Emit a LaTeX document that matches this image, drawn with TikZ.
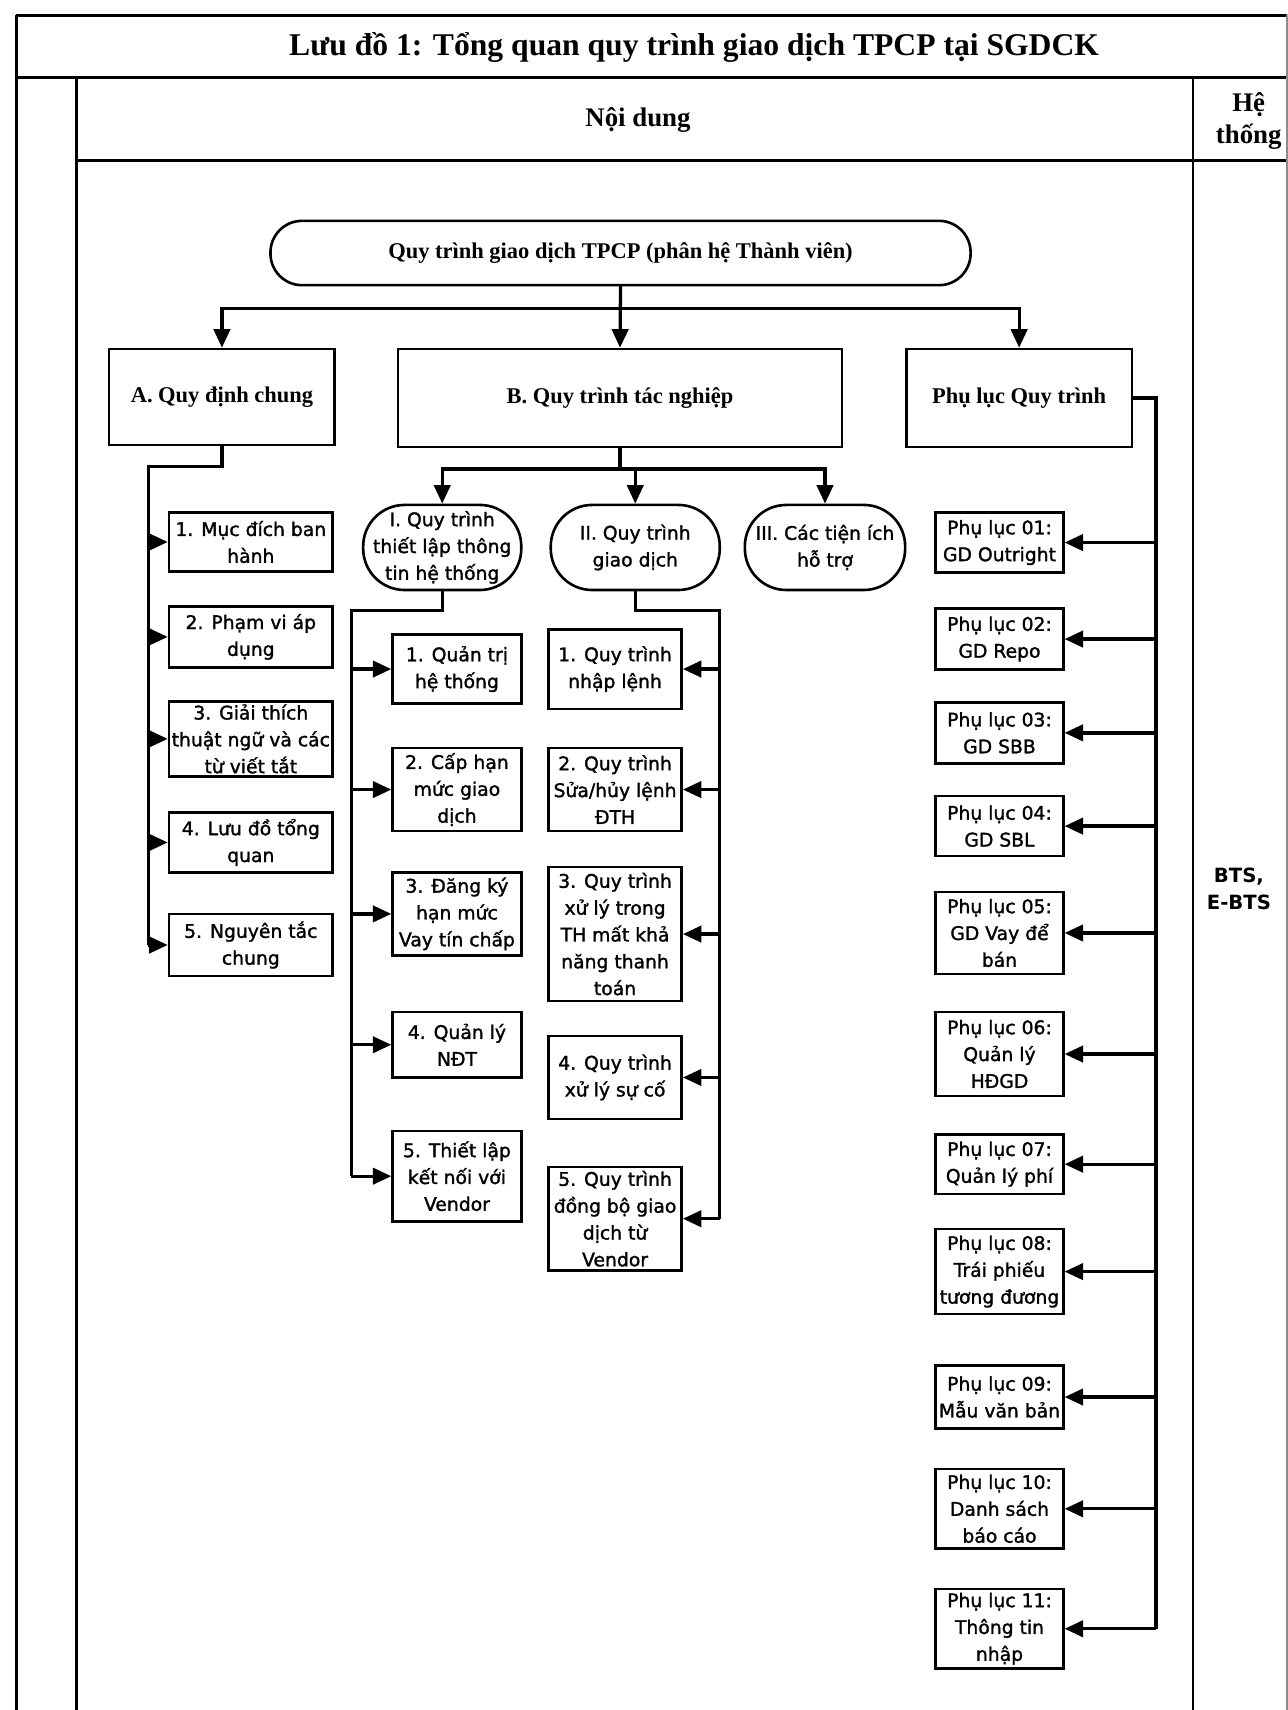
\documentclass[tikz,border=0pt]{standalone}
\usepackage{fontspec}
\setmainfont{Liberation Serif}
\newfontfamily\boxsans[FakeBold=1.5]{DejaVu Sans}
\newfontfamily\boxsansbold{DejaVu Sans Bold}
\usetikzlibrary{arrows.meta}

\begin{document}
\begin{tikzpicture}[x=0.5pt,y=-0.5pt,
  frame/.style={line width=1.2pt},
  headbox/.style={draw, line width=1.2pt, inner sep=0pt, align=center,
    font=\bfseries\fontsize{10.3}{12}\selectfont},
  capbox/.style={headbox, rounded corners=14.5pt},
  stepbox/.style={draw, line width=1.2pt, inner sep=0pt, align=center,
    font=\boxsans\fontsize{8.6}{12.3}\selectfont},
  pillbox/.style={stepbox, rounded corners=19pt},
  link/.style={line width=1.5pt},
  arrowlink/.style={link, -{Triangle[length=8.5pt,width=7.5pt]}},
  achild/.style={stepbox, minimum width=75pt},
  ichild/.style={stepbox, minimum width=59pt},
  iichild/.style={stepbox, minimum width=61pt},
  appx/.style={stepbox, minimum width=58.5pt},
]
\useasboundingbox (0,0) rectangle (1181,1568);

% table frame
\draw[frame] (15,14) -- (1180,14);
\draw[frame] (15,14) -- (15,1568);
\draw[frame] (15,71) -- (1180,71);
\draw[frame] (70,71) -- (70,1568);
\draw[frame] (70,147) -- (1180,147);
\draw[frame] (1094,71) -- (1094,1568);
\draw[line width=0.6pt, black!45] (1180,14) -- (1180,1568);

% headings
\node[font=\bfseries\fontsize{14.5}{17}\selectfont] (title) at (636.5,44)
  {Lưu đồ 1: Tổng quan quy trình giao dịch TPCP tại SGDCK};
\node[font=\bfseries\fontsize{12.3}{15}\selectfont] (content) at (585,110) {Nội dung};
\node[font=\bfseries\fontsize{12.3}{15}\selectfont, align=center] (system) at (1145,111) {Hệ\\thống};
\node[font=\boxsansbold\fontsize{9}{12}\selectfont, align=center] (bts) at (1136,815) {BTS,\\E-BTS};

% top level
\node[capbox, minimum width=321pt, minimum height=29.5pt] (top) at (569,232)
  {Quy trình giao dịch TPCP (phân hệ Thành viên)};
\node[headbox, minimum width=103.5pt, minimum height=44pt] (A) at (203.5,364) {A. Quy định chung};
\node[headbox, minimum width=203.5pt, minimum height=45pt] (B) at (568.5,365) {B. Quy trình tác nghiệp};
\node[headbox, minimum width=103.5pt, minimum height=45pt] (P) at (934.5,365) {Phụ lục Quy trình};

% A. general rules
\node[achild, minimum height=27pt]   (a1) at (230,497)   {1. Mục đích ban\\hành};
\node[achild, minimum height=28pt]   (a2) at (230,584)   {2. Phạm vi áp\\dụng};
\node[achild, minimum height=34.5pt] (a3) at (230,677.5) {3. Giải thích\\thuật ngữ và các\\từ viết tắt};
\node[achild, minimum height=27.5pt] (a4) at (230,772.5) {4. Lưu đồ tổng\\quan};
\node[achild, minimum height=28.5pt] (a5) at (230,866.5) {5. Nguyên tắc\\chung};

% B. operating procedures
\node[pillbox, minimum width=72.5pt, minimum height=39pt] (pI)   at (405.5,502) {I. Quy trình\\thiết lập thông\\tin hệ thống};
\node[pillbox, minimum width=77.5pt, minimum height=39pt] (pII)  at (582.5,502) {II. Quy trình\\giao dịch};
\node[pillbox, minimum width=73.5pt, minimum height=39pt] (pIII) at (756.5,502) {III. Các tiện ích\\hỗ trợ};

\node[ichild, minimum height=31.5pt] (i1) at (419,613.5)  {1. Quản trị\\hệ thống};
\node[ichild, minimum height=38pt]   (i2) at (419,724)    {2. Cấp hạn\\mức giao\\dịch};
\node[ichild, minimum height=38pt]   (i3) at (419,838)    {3. Đăng ký\\hạn mức\\Vay tín chấp};
\node[ichild, minimum height=30pt]   (i4) at (419,958)    {4. Quản lý\\NĐT};
\node[ichild, minimum height=41.5pt] (i5) at (419,1078.5) {5. Thiết lập\\kết nối với\\Vendor};

\node[iichild, minimum height=36.5pt] (ii1) at (564,613.5)  {1. Quy trình\\nhập lệnh};
\node[iichild, minimum height=38pt]   (ii2) at (564,724)    {2. Quy trình\\Sửa/hủy lệnh\\ĐTH};
\node[iichild, minimum height=61.5pt] (ii3) at (564,856.5)  {3. Quy trình\\xử lý trong\\TH mất khả\\năng thanh\\toán};
\node[iichild, minimum height=38pt]   (ii4) at (564,988)    {4. Quy trình\\xử lý sự cố};
\node[iichild, minimum height=47.5pt] (ii5) at (564,1117.5) {5. Quy trình\\đồng bộ giao\\dịch từ\\Vendor};

% appendices
\node[appx, minimum height=27.5pt] (x1)  at (916.5,497.5)  {Phụ lục 01:\\GD Outright};
\node[appx, minimum height=28pt]   (x2)  at (916.5,586)    {Phụ lục 02:\\GD Repo};
\node[appx, minimum height=28pt]   (x3)  at (916.5,672)    {Phụ lục 03:\\GD SBB};
\node[appx, minimum height=27.5pt] (x4)  at (916.5,757.5)  {Phụ lục 04:\\GD SBL};
\node[appx, minimum height=37.5pt] (x5)  at (916.5,855.5)  {Phụ lục 05:\\GD Vay để\\bán};
\node[appx, minimum height=38.5pt] (x6)  at (916.5,966.5)  {Phụ lục 06:\\Quản lý\\HĐGD};
\node[appx, minimum height=27.5pt] (x7)  at (916.5,1067.5) {Phụ lục 07:\\Quản lý phí};
\node[appx, minimum height=39pt]   (x8)  at (916.5,1166)   {Phụ lục 08:\\Trái phiếu\\tương đương};
\node[appx, minimum height=29pt]   (x9)  at (916.5,1281)   {Phụ lục 09:\\Mẫu văn bản};
\node[appx, minimum height=36.5pt] (x10) at (916.5,1383.5) {Phụ lục 10:\\Danh sách\\báo cáo};
\node[appx, minimum height=36.5pt] (x11) at (916.5,1493.5) {Phụ lục 11:\\Thông tin\\nhập};

% connectors: top level
\coordinate (tbar) at (569,283);
\draw[link] (top.south) -- (tbar);
\draw[arrowlink] (tbar) -| (A.north);
\draw[arrowlink] (tbar) -| (P.north);
\draw[arrowlink] (top.south) -- (B.north);

% connectors: A
\coordinate (abT) at (136,428);
\draw[link] (A.south) |- (abT) -- (abT |- a5.west);
\foreach \n in {a1,a2,a3,a4,a5}
  \draw[arrowlink] (abT |- \n.west) -- (\n.west);

% connectors: B
\coordinate (bbar) at (568.5,430);
\draw[link] (B.south) -- (bbar);
\draw[arrowlink] (bbar) -| (pI.north);
\draw[arrowlink] (bbar) -| (pII.north);
\draw[arrowlink] (bbar) -| (pIII.north);

\coordinate (ibT) at (322,560);
\draw[link] (pI.south) |- (ibT) -- (ibT |- i5.west);
\foreach \n in {i1,i2,i3,i4,i5}
  \draw[arrowlink] (ibT |- \n.west) -- (\n.west);

\coordinate (iibT) at (660,560);
\draw[link] (pII.south) |- (iibT) -- (iibT |- ii5.east);
\foreach \n in {ii1,ii2,ii3,ii4,ii5}
  \draw[arrowlink] (iibT |- \n.east) -- (\n.east);

% connectors: appendices
\coordinate (pbT) at (1060,365);
\draw[link] (P.east) -- (pbT) -- (pbT |- x11.east);
\foreach \n in {x1,x2,x3,x4,x5,x6,x7,x8,x9,x10,x11}
  \draw[arrowlink] (pbT |- \n.east) -- (\n.east);

\end{tikzpicture}
\end{document}
